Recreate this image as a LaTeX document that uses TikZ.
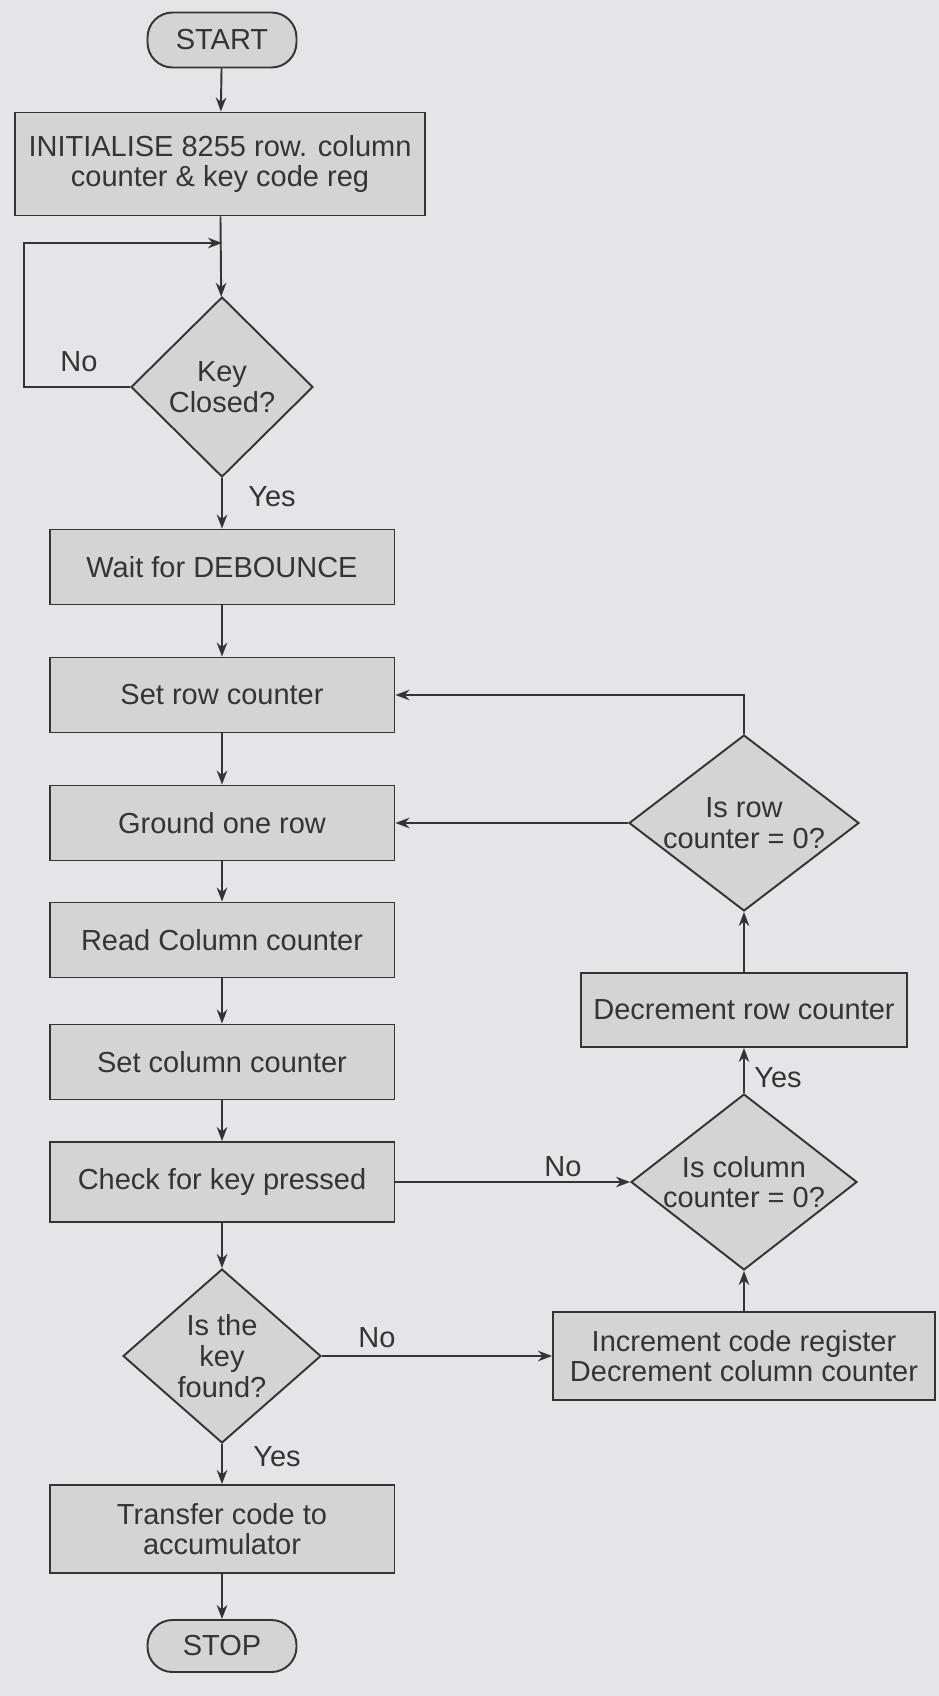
\documentclass[tikz,border=0pt]{standalone}
\usepackage{fontspec}
\setmainfont{Liberation Sans}
\usetikzlibrary{arrows.meta}
\tikzset{>={Stealth[length=8pt,width=6pt]}}
\usetikzlibrary{shapes.geometric}
\definecolor{paper}{RGB}{229,229,231}
\definecolor{boxfill}{RGB}{212,212,212}
\definecolor{ink}{RGB}{52,52,52}
\tikzset{
  every node/.style={font=\fontsize{16.5}{17.5}\selectfont},
  procbox/.style={draw, fill=boxfill, rectangle, align=center, inner sep=0pt,
    minimum width=6.9cm, minimum height=1.5cm},
  decbox/.style={draw, fill=boxfill, diamond, align=center, inner sep=-8pt},
  termbox/.style={draw, fill=boxfill, rectangle, rounded corners=0.5cm,
    minimum width=2.98cm, minimum height=1.1cm}
}

\begin{document}
\begin{tikzpicture}[x=0.02cm, y=-0.02cm, line width=1.1pt, ink]
    \fill[paper] (0,0) rectangle (939,1696);

    % main column
    \node[termbox] (start) at (222,40) {START};
    \node[procbox, minimum width=8.22cm, minimum height=2.06cm] (init) at (220,164)
      {INITIALISE 8255 row. column\\counter \& key code reg};
    \coordinate (loop) at (222,243);
    \node[decbox, minimum width=3.64cm, minimum height=3.6cm] (closed) at (222,387) {Key\\Closed?};
    \node[procbox] (wait) at (222,567) {Wait for DEBOUNCE};
    \node[procbox] (setrow) at (222,695) {Set row counter};
    \node[procbox] (ground) at (222,823) {Ground one row};
    \node[procbox] (readcol) at (222,940) {Read Column counter};
    \node[procbox] (setcol) at (222,1062) {Set column counter};
    \node[procbox, minimum height=1.6cm] (check) at (222,1182) {Check for key pressed};
    \node[decbox, minimum width=3.96cm, minimum height=3.48cm] (found) at (222,1356) {Is the\\key\\found?};
    \node[procbox, minimum height=1.76cm] (transfer) at (222,1529) {Transfer code to\\accumulator};
    \node[termbox, minimum height=1.04cm] (stop) at (222,1646) {STOP};

    % right column
    \node[decbox, minimum width=4.6cm, minimum height=3.52cm] (isrow) at (744,823) {Is row\\counter = 0?};
    \node[procbox, minimum width=6.52cm, minimum height=1.48cm] (decrow) at (744,1010) {Decrement row counter};
    \node[decbox, minimum width=4.52cm, minimum height=3.52cm] (iscol) at (744,1182) {Is column\\counter = 0?};
    \node[procbox, minimum width=7.64cm, minimum height=1.76cm] (incr) at (744,1356)
      {Increment code register\\Decrement column counter};

    \draw[->] (start) -- (init);
    \draw[->] (init) -- (closed);
    \draw[->] (closed.west) -- ++(-106,0) |- (loop);
    \draw[->] (closed) -- (wait);
    \draw[->] (wait) -- (setrow);
    \draw[->] (setrow) -- (ground);
    \draw[->] (ground) -- (readcol);
    \draw[->] (readcol) -- (setcol);
    \draw[->] (setcol) -- (check);
    \draw[->] (check) -- (found);
    \draw[->] (found) -- (transfer);
    \draw[->] (transfer) -- (stop);

    \draw[->] (check.east) -- (iscol.west);
    \draw[->] (found.east) -- (incr.west);
    \draw[->] (incr) -- (iscol);
    \draw[->] (iscol) -- (decrow);
    \draw[->] (decrow) -- (isrow);
    \draw[->] (isrow.west) -- (ground.east);
    \draw[->] (isrow.north) |- (setrow.east);

    \node (no1) at (79,362) {No};
    \node (yes1) at (272,497) {Yes};
    \node (no2) at (563,1167) {No};
    \node (yes2) at (778,1078) {Yes};
    \node (no3) at (377,1338) {No};
    \node (yes3) at (277,1457) {Yes};
  \end{tikzpicture}
\end{document}
